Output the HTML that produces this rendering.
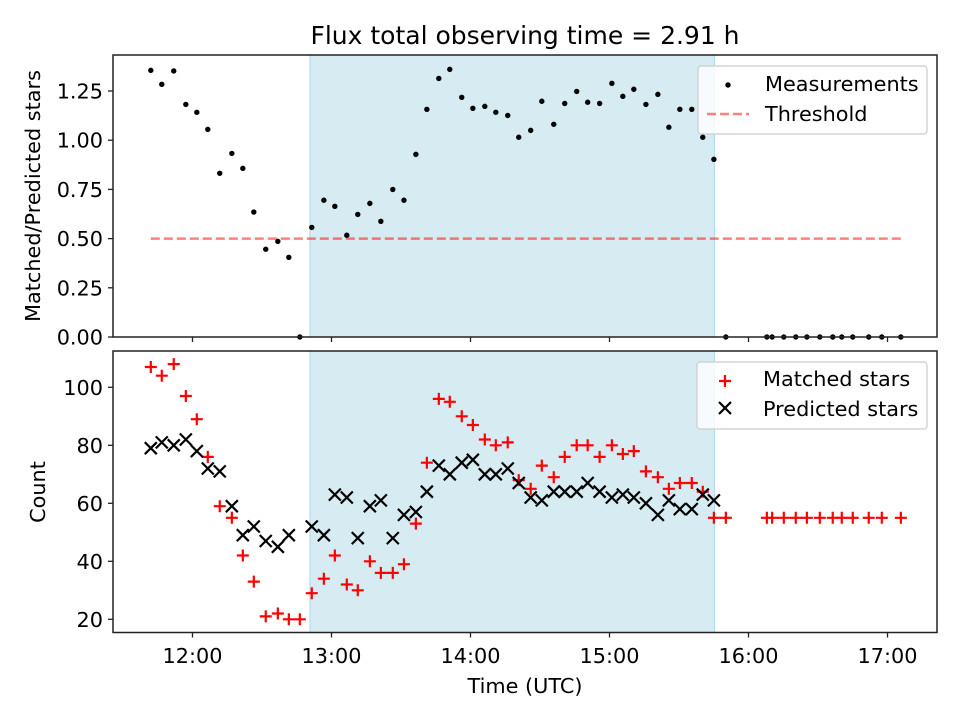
<!DOCTYPE html>
<html><head><meta charset="utf-8"><style>
body{margin:0;background:#fff;}
svg text{font-family:"DejaVu Sans","Liberation Sans",sans-serif;fill:#000;}
</style></head><body>
<svg id="chart" width="960" height="720" viewBox="0 0 960 720" xmlns="http://www.w3.org/2000/svg">
<rect width="960" height="720" fill="#fff"/>
</svg>
<script>
const times=[11.700,11.779,11.865,11.952,12.031,12.110,12.196,12.283,12.362,12.441,12.527,12.614,12.693,12.772,12.858,12.945,13.024,13.110,13.189,13.276,13.355,13.441,13.521,13.607,13.686,13.772,13.851,13.937,14.017,14.103,14.182,14.268,14.347,14.433,14.513,14.599,14.678,14.764,14.843,14.929,15.017,15.096,15.175,15.262,15.348,15.427,15.506,15.592,15.671,15.751,15.837,16.132,16.170,16.254,16.340,16.420,16.513,16.606,16.671,16.750,16.865,16.959,17.096];
const ratio=[1.355,1.284,1.352,1.182,1.142,1.055,0.832,0.933,0.857,0.635,0.446,0.486,0.405,0,0.557,0.695,0.664,0.517,0.623,0.679,0.588,0.750,0.695,0.928,1.157,1.314,1.360,1.218,1.162,1.172,1.142,1.126,1.015,1.050,1.198,1.081,1.187,1.248,1.193,1.187,1.289,1.223,1.259,1.182,1.233,1.066,1.157,1.157,1.015,0.903,0,0,0,0,0,0,0,0,0,0,0,0,0];
const matched=[107,104,108,97,89,76,59,55,42,33,21,22,20,20,29,34,42,32,30,40,36,36,39,53,74,96,95,90,87,82,80,81,68,65,73,69,76,80,80,76,80,77,78,71,69,65,67,67,64,55,55,55,55,55,55,55,55,55,55,55,55,55,55];
const predicted=[79,81,80,82,78,72,71,59,49,52,47,45,49,null,52,49,63,62,48,59,61,48,56,57,64,73,70,74,75,70,70,72,67,62,61,64,64,64,67,64,62,63,62,60,56,61,58,58,63,61,null,null,null,null,null,null,null,null,null,null,null,null,null];
const threshold=0.5;
const spanStart=12.845, spanEnd=15.755;
const topTicks=[0,0.25,0.5,0.75,1.0,1.25];
const topTickLabels=["0.00","0.25","0.50","0.75","1.00","1.25"];
const botTicks=[20,40,60,80,100];
const xTicks=[12,13,14,15,16,17];
const xTickLabels=["12:00","13:00","14:00","15:00","16:00","17:00"];

const NS="http://www.w3.org/2000/svg";
const svg=document.getElementById('chart');
function mk(tag,attrs,parent){const e=document.createElementNS(NS,tag);for(const k in attrs)e.setAttribute(k,attrs[k]);(parent||svg).appendChild(e);return e;}
const L=113,R=937;
const FS='20.8';
const xS=h=>192.5+(h-12)*139;
const T1=55,B1=337,yS1=v=>B1-(v/1.433)*(B1-T1);
const T2=351,B2=632.5,yS2=v=>619.3-(v-20)*2.9;

let e;
e=mk('rect',{x:xS(spanStart),y:T1,width:xS(spanEnd)-xS(spanStart),height:B1-T1,fill:'#add8e6','fill-opacity':0.5,stroke:'#add8e6','stroke-width':1});

e=mk('rect',{x:xS(spanStart),y:T2,width:xS(spanEnd)-xS(spanStart),height:B2-T2,fill:'#add8e6','fill-opacity':0.5,stroke:'#add8e6','stroke-width':1});


e=mk('line',{x1:xS(times[0]),x2:xS(times[times.length-1]),y1:yS1(threshold),y2:yS1(threshold),stroke:'#ff0000','stroke-opacity':0.5,'stroke-width':2.5,'stroke-dasharray':'9,4'});


const gm=mk('g',{});

times.forEach((t,i)=>{const c=mk('circle',{cx:xS(t),cy:yS1(ratio[i]),r:2.7,fill:'#000'},gm);

});

const gp=mk('g',{stroke:'#ff0000','stroke-width':2.2});

times.forEach((t,i)=>{const x=xS(t),y=yS2(matched[i]);const p=mk('path',{d:`M${x-6},${y}H${x+6}M${x},${y-6}V${y+6}`},gp);

});
const gx=mk('g',{stroke:'#000','stroke-width':2.2});

times.forEach((t,i)=>{if(predicted[i]==null)return;const x=xS(t),y=yS2(predicted[i]);const p=mk('path',{d:`M${x-6},${y-6}L${x+6},${y+6}M${x-6},${y+6}L${x+6},${y-6}`},gx);

});

e=mk('rect',{x:L,y:T1,width:R-L,height:B1-T1,fill:'none',stroke:'#222','stroke-width':1.5});

e=mk('rect',{x:L,y:T2,width:R-L,height:B2-T2,fill:'none',stroke:'#222','stroke-width':1.5});


topTicks.forEach((v,i)=>{const y=yS1(v);mk('line',{x1:L-5,x2:L,y1:y,y2:y,stroke:'#222','stroke-width':1.3});
const t=mk('text',{x:L-10,y:y+7.5,'font-size':FS,'text-anchor':'end'});t.textContent=topTickLabels[i];

});
botTicks.forEach(v=>{const y=yS2(v);mk('line',{x1:L-5,x2:L,y1:y,y2:y,stroke:'#222','stroke-width':1.3});
const t=mk('text',{x:L-10,y:y+7.5,'font-size':FS,'text-anchor':'end'});t.textContent=String(v);

});
xTicks.forEach((h,i)=>{const x=xS(h);mk('line',{x1:x,x2:x,y1:B1,y2:B1+5,stroke:'#222','stroke-width':1.3});
mk('line',{x1:x,x2:x,y1:B2,y2:B2+5,stroke:'#222','stroke-width':1.3});
const t=mk('text',{x:x,y:663,'font-size':FS,'text-anchor':'middle'});t.textContent=xTickLabels[i];

});

function txt(s,attrs,name){const t=mk('text',attrs);t.textContent=s;return t;}
txt('Flux total observing time = 2.91 h',{x:525,y:44,'font-size':'25','text-anchor':'middle'},'chart-title');
txt('Matched/Predicted stars',{x:0,y:0,'font-size':FS,'text-anchor':'middle',transform:'translate(40,196) rotate(-90)'},'top-y-axis-title');
txt('Count',{x:0,y:0,'font-size':FS,'text-anchor':'middle',transform:'translate(45,492) rotate(-90)'},'bottom-y-axis-title');
txt('Time (UTC)',{x:525,y:693,'font-size':FS,'text-anchor':'middle'},'x-axis-title');

const lg1=mk('g',{});
mk('rect',{x:698,y:66,width:229,height:68,rx:3,fill:'#fff','fill-opacity':0.8,stroke:'#ccc','stroke-width':1.2},lg1);
mk('circle',{cx:728,cy:85,r:2.7,fill:'#000'},lg1);
mk('line',{x1:707,x2:749,y1:114,y2:114,stroke:'#ff0000','stroke-opacity':0.5,'stroke-width':2.5,'stroke-dasharray':'9,4'},lg1);
let t1=mk('text',{x:765,y:91,'font-size':FS},lg1);t1.textContent='Measurements';


let t2=mk('text',{x:765,y:121,'font-size':FS},lg1);t2.textContent='Threshold';



const lg2=mk('g',{});
mk('rect',{x:697,y:362,width:230,height:67,rx:3,fill:'#fff','fill-opacity':0.8,stroke:'#ccc','stroke-width':1.2},lg2);
mk('path',{d:'M719,381H731M725,375V387',stroke:'#ff0000','stroke-width':2.2},lg2);
mk('path',{d:'M719,402L731,414M719,414L731,402',stroke:'#000','stroke-width':2.2},lg2);
let t3=mk('text',{x:763,y:386,'font-size':FS},lg2);t3.textContent='Matched stars';


let t4=mk('text',{x:763,y:416,'font-size':FS},lg2);t4.textContent='Predicted stars';


</script>
</body></html>
